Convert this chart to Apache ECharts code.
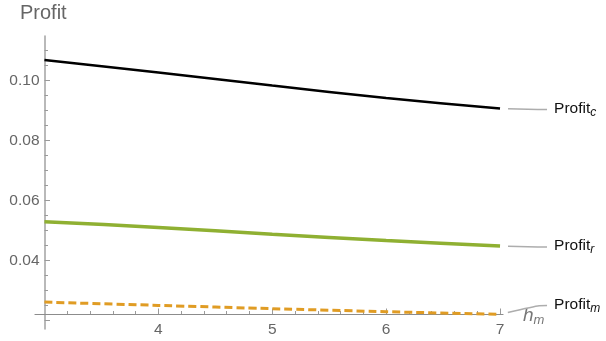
<!DOCTYPE html>
<html>
<head>
<meta charset="utf-8">
<script src="https://cdn.jsdelivr.net/npm/echarts@6/dist/echarts.min.js"></script>
<style>
  html, body { margin: 0; padding: 0; background: #fff; }
  #chart { width: 606px; height: 341px; }
</style>
</head>
<body>
<div id="chart"></div>
<script>
// Profit of each channel member as a function of h_m
const hValues = [3, 4, 5, 6, 7];
const profitC = [0.1069, 0.1027, 0.0984, 0.0942, 0.0907];
const profitR = [0.0530, 0.0511, 0.0488, 0.0467, 0.0449];
const profitM = [0.0262, 0.0251, 0.0240, 0.0230, 0.0221];

// Axis ticks and labels
const xLabelTicks = [4, 5, 6, 7];
const xMajorTicks = [4, 5, 6, 7];
const xMinorTicks = [3.2, 3.4, 3.6, 3.8, 4.2, 4.4, 4.6, 4.8, 5.2, 5.4, 5.6, 5.8, 6.2, 6.4, 6.6, 6.8];
const yLabelTicks = [0.04, 0.06, 0.08, 0.10];
const yMajorTicks = [0.02, 0.04, 0.06, 0.08, 0.10];
const yMinorTicks = [0.025, 0.03, 0.035, 0.045, 0.05, 0.055, 0.065, 0.07, 0.075, 0.085, 0.09, 0.095, 0.105, 0.11];

const FONT = 'Liberation Sans, Arial, sans-serif';
const AXIS_GRAY = '#9a9a9a';
const TEXT_GRAY = '#666666';

const xRange = { min: 2.917, max: 7.026 };
const yRange = { min: 0.01723, max: 0.1149 };

const chart = echarts.init(document.getElementById('chart'), null, { renderer: 'canvas' });

function profitSeries(name, sub, values, color, width, dash, dy) {
  const last = hValues.length - 1;
  return {
    type: 'line',
    name: name,
    xAxisIndex: 0,
    yAxisIndex: 0,
    smooth: 0.2,
    data: hValues.map((h, i) => {
      const item = { value: [h, values[i]] };
      if (i === last) item.label = { show: true };
      return item;
    }),
    symbol: 'circle',
    symbolSize: 16,
    showAllSymbol: true,
    itemStyle: { color: 'rgba(0,0,0,0)', borderWidth: 0 },
    lineStyle: { color: color, width: width, type: dash },
    label: {
      show: false,
      position: 'right',
      distance: 39,
      // a blank leading token keeps the leader line clear of the text
      formatter: '{g|}{t|Profit}{s|' + sub + '}',
      rich: {
        g: { width: 7, height: 1 },
        t: { fontFamily: FONT, fontSize: 15.5, color: '#111', lineHeight: 20 },
        s: { fontFamily: FONT, fontSize: 12, fontStyle: 'italic', color: '#111', lineHeight: 12, verticalAlign: 'bottom' }
      }
    },
    labelLine: {
      show: true,
      length2: 8,
      smooth: 0.5,
      lineStyle: { color: '#adadad', width: 1.5 }
    },
    labelLayout: { dy: dy },
    emphasis: { disabled: true },
    silent: true,
    animation: false
  };
}

const option = {
  backgroundColor: '#ffffff',
  animation: false,
  title: {
    text: 'Profit',
    left: 20,
    top: 3,
    padding: 0,
    textStyle: { fontFamily: FONT, fontSize: 20, fontWeight: 'normal', color: TEXT_GRAY }
  },
  grid: { left: 35, right: 103, top: 36, bottom: 12, containLabel: false },
  xAxis: [
    {
      type: 'value',
      position: 'bottom',
      offset: -15,
      min: xRange.min,
      max: xRange.max,
      splitLine: { show: false },
      axisLine: { show: true, onZero: false, lineStyle: { color: '#8c8c8c', width: 1.2 } },
      axisTick: { show: true, inside: true, length: 3, customValues: xMinorTicks, lineStyle: { color: AXIS_GRAY, width: 1 } },
      axisLabel: {
        show: true, customValues: xLabelTicks, margin: 8,
        fontFamily: FONT, fontSize: 15.5, color: TEXT_GRAY,
        formatter: v => String(Math.round(v))
      },
      name: '{h|h}{m|m}',
      nameLocation: 'end',
      nameGap: 20,
      nameTextStyle: {
        padding: [4, 0, 0, 0],
        lineHeight: 22,
        rich: {
          h: { fontFamily: FONT, fontSize: 19, fontStyle: 'italic', color: '#777', lineHeight: 22 },
          m: { fontFamily: FONT, fontSize: 13, fontStyle: 'italic', color: '#777', lineHeight: 13, verticalAlign: 'bottom' }
        }
      }
    },
    {
      type: 'value',
      position: 'bottom',
      offset: -15,
      min: xRange.min,
      max: xRange.max,
      splitLine: { show: false },
      axisLine: { show: false, onZero: false },
      axisTick: { show: true, inside: true, length: 5.5, customValues: xMajorTicks, lineStyle: { color: AXIS_GRAY, width: 1 } },
      axisLabel: { show: false }
    }
  ],
  yAxis: [
    {
      type: 'value',
      position: 'left',
      offset: -9.5,
      min: yRange.min,
      max: yRange.max,
      splitLine: { show: false },
      axisLine: { show: true, onZero: false, lineStyle: { color: '#a8a8a8', width: 1.6 } },
      axisTick: { show: true, inside: true, length: 3.5, customValues: yMinorTicks, lineStyle: { color: AXIS_GRAY, width: 1 } },
      axisLabel: {
        show: true, customValues: yLabelTicks, margin: 5,
        fontFamily: FONT, fontSize: 15.5, color: TEXT_GRAY,
        formatter: v => v.toFixed(2)
      }
    },
    {
      type: 'value',
      position: 'left',
      offset: -9.5,
      min: yRange.min,
      max: yRange.max,
      splitLine: { show: false },
      axisLine: { show: false, onZero: false },
      axisTick: { show: true, inside: true, length: 5.5, customValues: yMajorTicks, lineStyle: { color: AXIS_GRAY, width: 1 } },
      axisLabel: { show: false }
    }
  ],
  series: [
    profitSeries('Profit_m', 'm', profitM, '#e09c24', 3, [8, 4], -10),
    profitSeries('Profit_r', 'r', profitR, '#8fb032', 3.5, 'solid', 0),
    profitSeries('Profit_c', 'c', profitC, '#000000', 2.5, 'solid', 0)
  ]
};

chart.setOption(option);
</script>
</body>
</html>
